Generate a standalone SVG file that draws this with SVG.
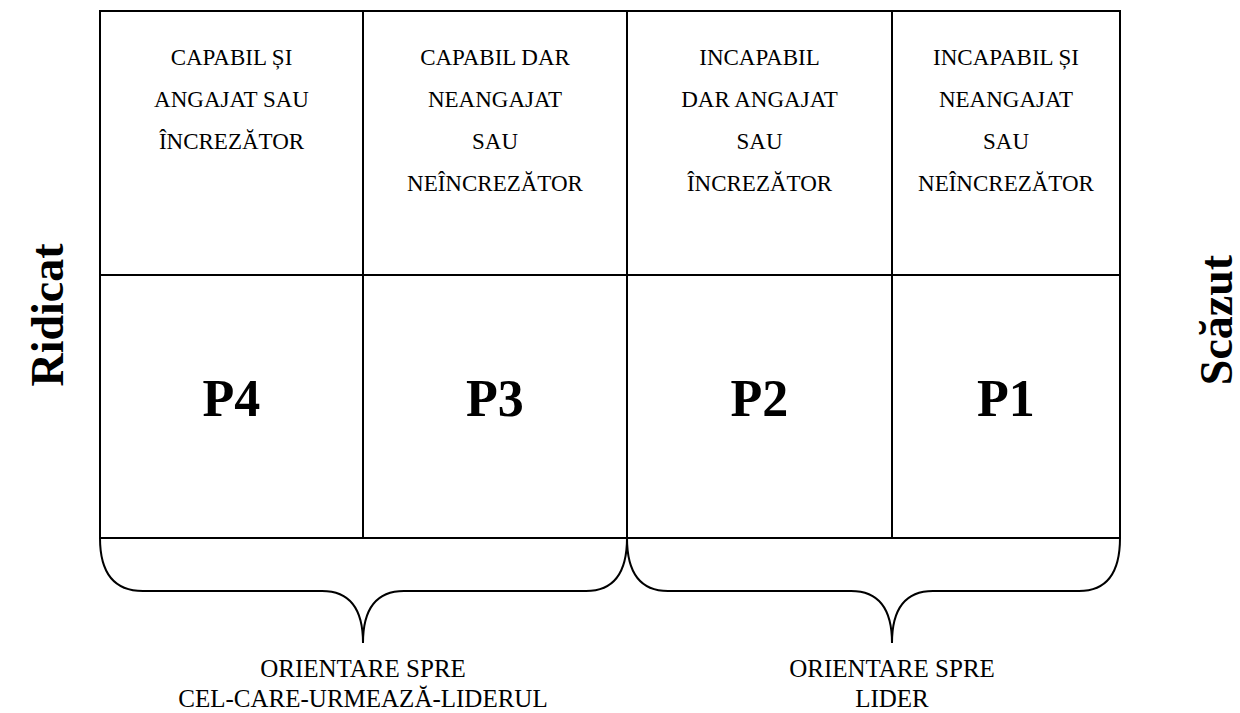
<svg xmlns="http://www.w3.org/2000/svg" width="1240" height="713" viewBox="0 0 1240 713">
<style>
.ln{fill:none;stroke:#000;stroke-width:2}
.t{font-family:"Liberation Serif","Times New Roman",serif;font-size:23px;fill:#000;text-anchor:middle}
.p{font-family:"Liberation Serif","Times New Roman",serif;font-size:52px;font-weight:bold;fill:#000;text-anchor:middle}
.s{font-family:"Liberation Serif","Times New Roman",serif;font-size:46px;font-weight:bold;fill:#000;text-anchor:middle}
.b{font-family:"Liberation Serif","Times New Roman",serif;font-size:25px;fill:#000;text-anchor:middle}
</style>
<rect width="1240" height="713" fill="#fff"/>
<g id="grid">
<rect class="ln" x="100" y="11" width="1020" height="527"/>
<line class="ln" x1="363" y1="11" x2="363" y2="538"/>
<line class="ln" x1="627" y1="11" x2="627" y2="538"/>
<line class="ln" x1="892" y1="11" x2="892" y2="538"/>
<line class="ln" x1="100" y1="275" x2="1120" y2="275"/>
</g>
<g id="c4">
<text class="t" x="231.5" y="65">CAPABIL ȘI</text>
<text class="t" x="231.5" y="107">ANGAJAT SAU</text>
<text class="t" x="231.5" y="149">ÎNCREZĂTOR</text>
<text class="p" x="231.5" y="416">P4</text>
</g>
<g id="c3">
<text class="t" x="495" y="65">CAPABIL DAR</text>
<text class="t" x="495" y="107">NEANGAJAT</text>
<text class="t" x="495" y="149">SAU</text>
<text class="t" x="495" y="191">NEÎNCREZĂTOR</text>
<text class="p" x="495" y="416">P3</text>
</g>
<g id="c2">
<text class="t" x="759.5" y="65">INCAPABIL</text>
<text class="t" x="759.5" y="107">DAR ANGAJAT</text>
<text class="t" x="759.5" y="149">SAU</text>
<text class="t" x="759.5" y="191">ÎNCREZĂTOR</text>
<text class="p" x="759.5" y="416">P2</text>
</g>
<g id="c1">
<text class="t" x="1006" y="65">INCAPABIL ȘI</text>
<text class="t" x="1006" y="107">NEANGAJAT</text>
<text class="t" x="1006" y="149">SAU</text>
<text class="t" x="1006" y="191">NEÎNCREZĂTOR</text>
<text class="p" x="1006" y="416">P1</text>
</g>
<g id="sides">
<text class="s" transform="translate(63,315) rotate(-90)">Ridicat</text>
<text class="s" transform="translate(1232,320) rotate(-90)">Scăzut</text>
</g>
<g id="braces">
<path class="ln" d="M100,538 Q100,591 143,591 L322,591 Q363,591 363,643 Q363,591 404,591 L586,591 Q627,591 627,538"/>
<path class="ln" d="M627,538 Q627,591 668,591 L851,591 Q892,591 892,643 Q892,591 933,591 L1079,591 Q1120,591 1120,538"/>
</g>
<g id="labels">
<text class="b" x="363" y="677">ORIENTARE SPRE</text>
<text class="b" x="363" y="707">CEL-CARE-URMEAZĂ-LIDERUL</text>
<text class="b" x="892" y="677">ORIENTARE SPRE</text>
<text class="b" x="892" y="707">LIDER</text>
</g>
</svg>
